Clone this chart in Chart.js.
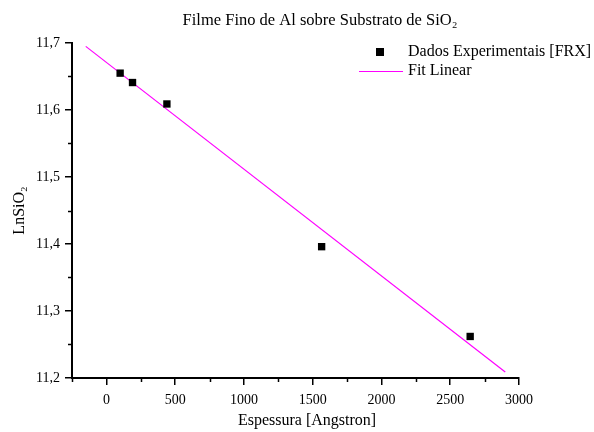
<!DOCTYPE html>
<html>
<head>
<meta charset="utf-8">
<script src="https://cdn.jsdelivr.net/npm/chart.js@4/dist/chart.umd.min.js"></script>
<style>
  html, body { margin: 0; padding: 0; background: #fff; }
  #wrap { width: 594px; height: 432px; }
</style>
</head>
<body>
<div id="wrap"><canvas id="fitChart" width="594" height="432"></canvas></div>
<script>
/* ===== Data ===== */
const espessura = [100, 190, 440, 1565, 2645];
const lnSiO2 = [11.655, 11.641, 11.609, 11.396, 11.262];
const fitX = [-150, 2900];
const fitY = [11.695, 11.209];

const chartTitle = "Filme Fino de Al sobre Substrato de SiO₂";
const xTitle = "Espessura [Angstron]";
const yTitle = "LnSiO₂";

const serif = "'Liberation Serif', 'Times New Roman', serif";

/* ===== Minor ticks, titles and legend ===== */
const extrasPlugin = {
  id: "extras",
  afterDraw(chart) {
    const ctx = chart.ctx;
    const xs = chart.scales.x;
    const ys = chart.scales.y;
    const area = chart.chartArea;

    ctx.save();
    ctx.strokeStyle = "#000";
    ctx.lineWidth = 1.5;
    // minor ticks x (every 250, between majors)
    for (let v = -250; v <= 3000; v += 250) {
      if (v % 500 === 0) continue;
      const px = Math.round(xs.getPixelForValue(v)) + 0.5;
      ctx.beginPath();
      ctx.moveTo(px, area.bottom);
      ctx.lineTo(px, area.bottom + 4);
      ctx.stroke();
    }
    // minor ticks y (every 0.05)
    for (let i = 0; i < 5; i++) {
      const v = 11.25 + i * 0.1;
      const py = Math.round(ys.getPixelForValue(v)) + 0.5;
      ctx.beginPath();
      ctx.moveTo(area.left, py);
      ctx.lineTo(area.left - 4, py);
      ctx.stroke();
    }

    ctx.fillStyle = "#000";
    ctx.textAlign = "center";
    ctx.textBaseline = "alphabetic";
    // title
    ctx.font = "16.5px " + serif;
    ctx.fillText(chartTitle, 320, 25);
    // x axis title
    ctx.font = "16px " + serif;
    ctx.fillText(xTitle, 307, 425);

    // legend
    const ds = chart.data.datasets;
    ctx.textAlign = "left";
    ctx.textBaseline = "middle";
    ctx.fillStyle = ds[0].backgroundColor;
    ctx.fillRect(376, 48, 8, 8);
    ctx.fillStyle = "#000";
    ctx.fillText(ds[0].label, 408, 52);
    ctx.strokeStyle = ds[1].borderColor;
    ctx.lineWidth = 1.2;
    ctx.beginPath();
    ctx.moveTo(359, 71.5);
    ctx.lineTo(403, 71.5);
    ctx.stroke();
    ctx.fillText(ds[1].label, 408, 71);
    ctx.restore();
  }
};

/* ===== Chart ===== */
const ctx = document.getElementById("fitChart").getContext("2d");
new Chart(ctx, {
  type: "scatter",
  data: {
    datasets: [
      {
        label: "Dados Experimentais [FRX]",
        data: espessura.map((x, i) => ({ x: x, y: lnSiO2[i] })),
        backgroundColor: "#000",
        borderColor: "#000",
        borderWidth: 0,
        pointStyle: "rect",
        pointRadius: 5.2,
        pointHoverRadius: 5.2
      },
      {
        label: "Fit Linear",
        data: fitX.map((x, i) => ({ x: x, y: fitY[i] })),
        showLine: true,
        borderColor: "#ff00ff",
        borderWidth: 1.2,
        pointRadius: 0,
        fill: false
      }
    ]
  },
  options: {
    responsive: false,
    animation: false,
    layout: { padding: { top: 43, right: 75, left: 0, bottom: 0 } },
    plugins: {
      legend: { display: false },
      title: { display: false },
      tooltip: { enabled: false }
    },
    scales: {
      x: {
        type: "linear",
        min: -250,
        max: 3000,
        afterFit: s => { s.height = 54; },
        afterBuildTicks: s => { s.ticks = s.ticks.filter(t => Math.abs(t.value % 500) < 1e-6); },
        border: { display: true, color: "#000", width: 2 },
        grid: { drawOnChartArea: false, drawTicks: true, tickLength: 7, color: "#000", lineWidth: 1.5 },
        ticks: {
          stepSize: 250,
          padding: 7,
          color: "#000",
          font: { family: serif, size: 14 },
          maxRotation: 0,
          autoSkip: false,
          callback: v => String(v)
        },
        title: { display: false, text: xTitle }
      },
      y: {
        type: "linear",
        min: 11.2,
        max: 11.7,
        afterFit: s => { s.width = 72; },
        border: { display: true, color: "#000", width: 2 },
        grid: { drawOnChartArea: false, drawTicks: true, tickLength: 7, color: "#000", lineWidth: 1.5 },
        ticks: {
          stepSize: 0.1,
          padding: 5,
          color: "#000",
          font: { family: serif, size: 14 },
          callback: v => Number(v).toFixed(1).replace(".", ",")
        },
        title: {
          display: true,
          text: yTitle,
          color: "#000",
          font: { family: serif, size: 16 },
          padding: { top: 10, bottom: 0 }
        }
      }
    }
  },
  plugins: [extrasPlugin]
});
</script>
</body>
</html>
